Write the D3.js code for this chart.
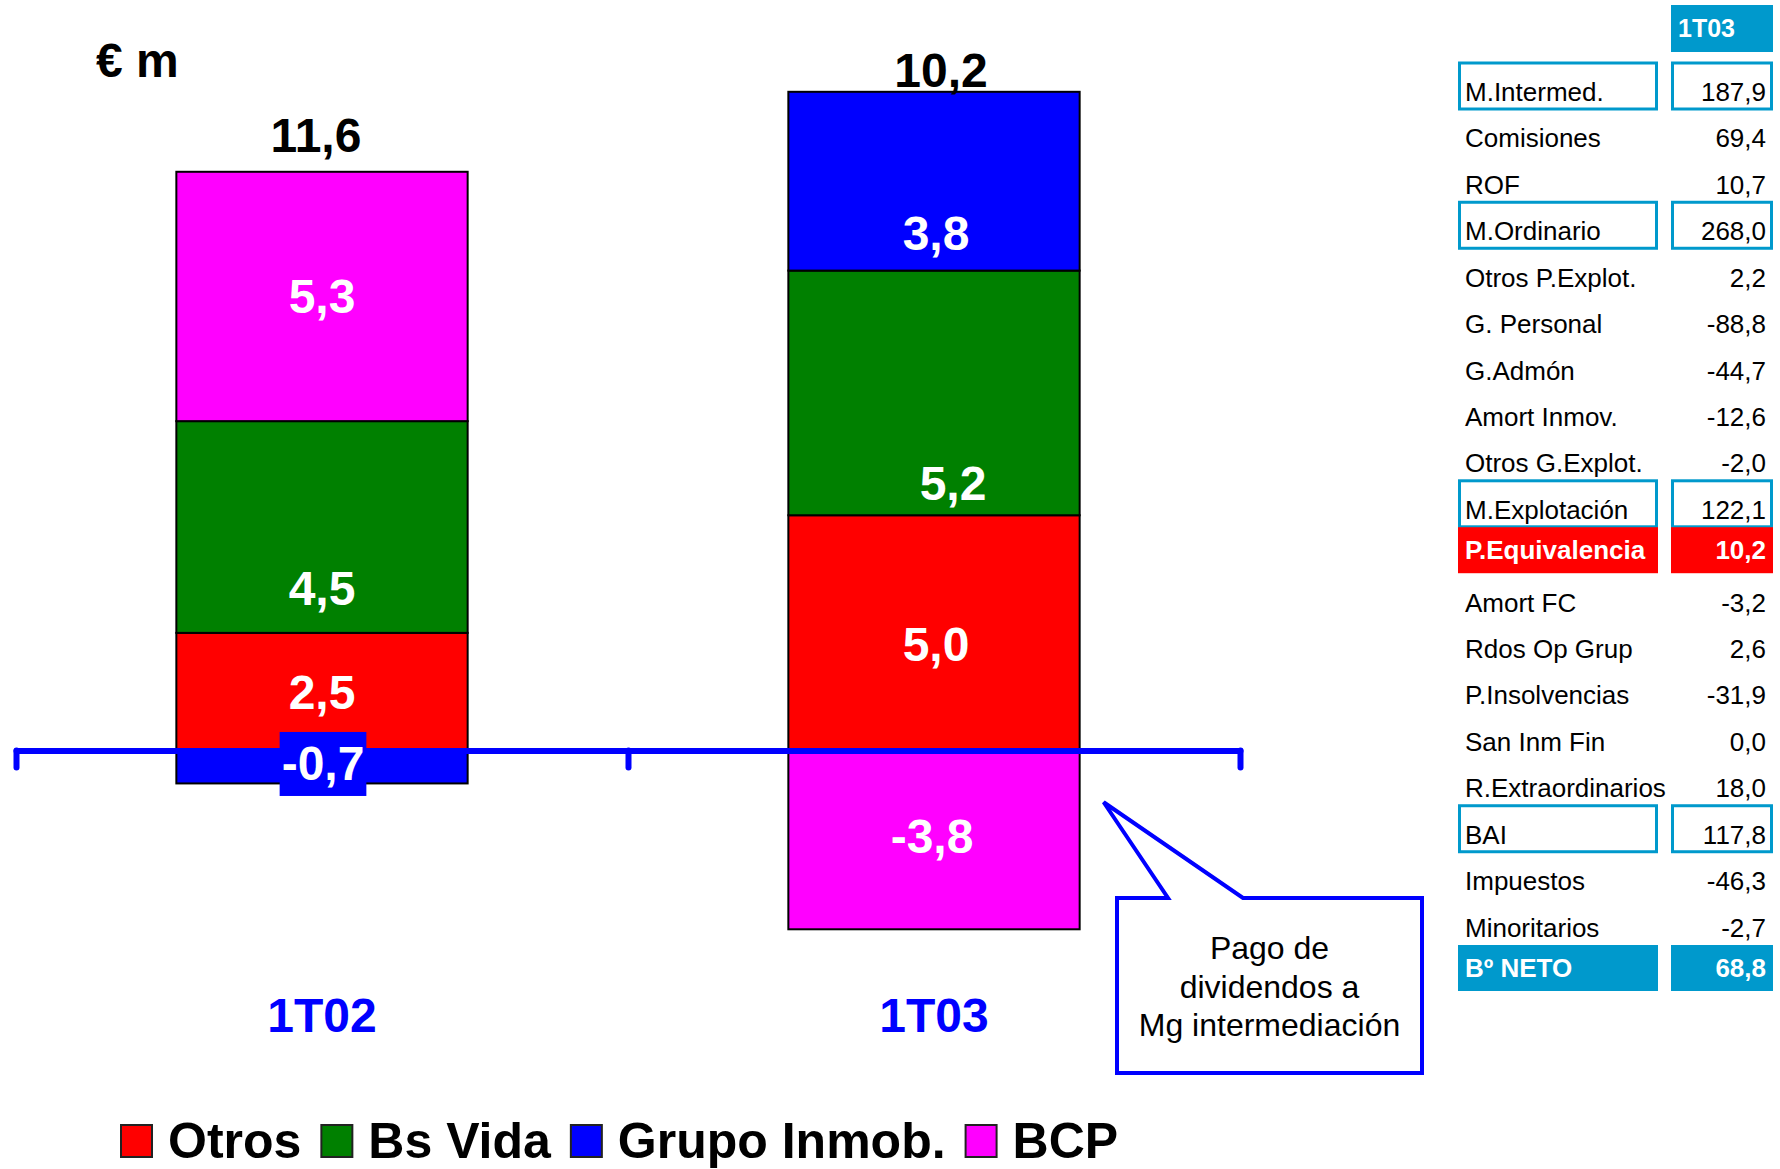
<!DOCTYPE html>
<html>
<head>
<meta charset="utf-8">
<script src="https://cdnjs.cloudflare.com/ajax/libs/d3/7.8.5/d3.min.js"></script>
<style>
  body { margin: 0; background: #fff; }
  svg { display: block; font-family: 'Liberation Sans', Arial, sans-serif; }
</style>
</head>
<body>
<div id="chart"></div>
<script>
// stacked bar data (€ m)
const categories = ['1T02', '1T03'];
const seriesNames = ['Otros', 'Bs Vida', 'Grupo Inmob.', 'BCP'];
const otros = [2.5, 5.0];
const bsVida = [4.5, 5.2];
const grupoInmob = [-0.7, 3.8];
const bcp = [5.3, -3.8];
const totals = [11.6, 10.2];

// side table
const tableHeader = '1T03';
const tableLabels = ['M.Intermed.', 'Comisiones', 'ROF', 'M.Ordinario', 'Otros P.Explot.',
  'G. Personal', 'G.Admón', 'Amort Inmov.', 'Otros G.Explot.', 'M.Explotación',
  'P.Equivalencia', 'Amort FC', 'Rdos Op Grup', 'P.Insolvencias', 'San Inm Fin',
  'R.Extraordinarios', 'BAI', 'Impuestos', 'Minoritarios', 'Bº NETO'];
const tableValues = [187.9, 69.4, 10.7, 268.0, 2.2, -88.8, -44.7, -12.6, -2.0, 122.1,
  10.2, -3.2, 2.6, -31.9, 0.0, 18.0, 117.8, -46.3, -2.7, 68.8];
const boxedRows = ['M.Intermed.', 'M.Ordinario', 'M.Explotación', 'BAI'];
const highlightRows = ['P.Equivalencia', 'Bº NETO'];

const calloutLines = ['Pago de', 'dividendos a', 'Mg intermediación'];

const width = 1780;
const height = 1169;

const locale = d3.formatLocale({decimal: ',', thousands: '.', grouping: [3], currency: ['', ''], minus: '-'});
const fmt = locale.format('.1f');

const color = d3.scaleOrdinal()
  .domain(seriesNames)
  .range(['#ff0000', '#008000', '#0000ff', '#ff00ff']);

const rows = categories.map((c, i) => ({
  category: c,
  'Otros': otros[i],
  'Bs Vida': bsVida[i],
  'Grupo Inmob.': grupoInmob[i],
  'BCP': bcp[i]
}));

const series = d3.stack()
  .keys(seriesNames)
  .offset(d3.stackOffsetDiverging)(rows);

const svg = d3.select('#chart')
  .append('svg')
  .attr('width', width)
  .attr('height', height);

const x = d3.scaleBand()
  .domain(categories)
  .range([16, 1240])
  .padding(0);

const barW = x.bandwidth() * 0.476;

const y = d3.scaleLinear()
  .domain([-4, 14])
  .range([938.7, 91.8]);

// bars
const layer = svg.append('g')
  .selectAll('g')
  .data(series)
  .join('g')
  .attr('fill', d => color(d.key));

layer.selectAll('rect')
  .data(d => d.map(v => Object.assign(v, {key: d.key})))
  .join('rect')
  .attr('x', d => x(d.data.category) + (x.bandwidth() - barW) / 2)
  .attr('y', d => y(d[1]))
  .attr('width', barW)
  .attr('height', d => Math.abs(y(d[0]) - y(d[1])))
  .attr('stroke', '#000')
  .attr('stroke-width', 2);

// axis at zero with ticks on category boundaries
const xEdges = d3.scaleLinear().domain([0, categories.length]).range(x.range());
const axis = svg.append('g')
  .attr('transform', `translate(0,${y(0)})`)
  .call(d3.axisBottom(xEdges)
    .tickValues(d3.range(categories.length + 1))
    .tickSize(17)
    .tickSizeOuter(0)
    .tickFormat(''));
axis.selectAll('path, line')
  .attr('stroke', '#0000ff')
  .attr('stroke-width', 6)
  .attr('stroke-linecap', 'round');

// segment labels
const labelNudge = {
  '1T02|Bs Vida': [0, 61],
  '1T02|Grupo Inmob.': [1, -4],
  '1T03|Grupo Inmob.': [2, 52],
  '1T03|Bs Vida': [19, 90],
  '1T03|Otros': [2, 11],
  '1T03|BCP': [-2, -4]
};

const segs = series.flatMap(s => s.filter(d => d[1] !== d[0]));
const segLabels = svg.append('g')
  .selectAll('g')
  .data(segs)
  .join('g');

segLabels.each(function (d) {
  const g = d3.select(this);
  const n = labelNudge[d.data.category + '|' + d.key] || [0, 0];
  const cx = x(d.data.category) + x.bandwidth() / 2 + n[0];
  const cy = (y(d[0]) + y(d[1])) / 2 + n[1];
  const t = g.append('text')
    .attr('x', cx)
    .attr('y', cy + 17)
    .attr('text-anchor', 'middle')
    .attr('font-size', 48)
    .attr('font-weight', 'bold')
    .attr('fill', '#fff')
    .text(fmt(d.data[d.key]));
  // small segments get a label background box
  if (Math.abs(y(d[0]) - y(d[1])) < 50) {
    const bb = t.node().getBBox();
    g.insert('rect', 'text')
      .attr('x', bb.x - 2)
      .attr('y', bb.y - 5)
      .attr('width', bb.width + 4)
      .attr('height', bb.height + 11)
      .attr('fill', color(d.key));
  }
});

// totals above bars
const totalNudge = [[-6, -20], [7, -5]];
svg.append('g')
  .selectAll('text')
  .data(categories)
  .join('text')
  .attr('x', (c, i) => x(c) + x.bandwidth() / 2 + totalNudge[i][0])
  .attr('y', (c, i) => y(d3.sum(seriesNames, k => Math.max(0, rows[i][k]))) + totalNudge[i][1])
  .attr('text-anchor', 'middle')
  .attr('font-size', 48)
  .attr('font-weight', 'bold')
  .attr('fill', '#000')
  .text((c, i) => fmt(totals[i]));

// category labels
svg.append('g')
  .selectAll('text')
  .data(categories)
  .join('text')
  .attr('x', c => x(c) + x.bandwidth() / 2)
  .attr('y', 1032)
  .attr('text-anchor', 'middle')
  .attr('font-size', 48)
  .attr('font-weight', 'bold')
  .attr('fill', '#0000ff')
  .text(c => c);

// unit
svg.append('text')
  .attr('x', 96)
  .attr('y', 77)
  .attr('font-size', 48)
  .attr('font-weight', 'bold')
  .text('€ m');

// legend
const legend = svg.append('g').attr('transform', 'translate(121,1125)');
let lx = 0;
seriesNames.forEach(name => {
  legend.append('rect')
    .attr('x', lx)
    .attr('y', 0)
    .attr('width', 31)
    .attr('height', 32)
    .attr('fill', color(name))
    .attr('stroke', '#222')
    .attr('stroke-width', 2);
  const t = legend.append('text')
    .attr('x', lx + 47)
    .attr('y', 33)
    .attr('font-size', 50)
    .attr('font-weight', 'bold')
    .text(name);
  lx += 47 + t.node().getComputedTextLength() + 20;
});

// callout
const tip = [x('1T03') + (x.bandwidth() + barW) / 2 + 24, y(-1.1)];
const box = {x0: 1117, x1: 1422, y0: 898, y1: 1073};
const callout = svg.append('g');
callout.append('path')
  .attr('d', d3.line()([
    tip, [1168, box.y0], [box.x0, box.y0], [box.x0, box.y1],
    [box.x1, box.y1], [box.x1, box.y0], [1243, box.y0]
  ]) + 'Z')
  .attr('fill', '#fff')
  .attr('stroke', '#0000ff')
  .attr('stroke-width', 4);
callout.selectAll('text')
  .data(calloutLines)
  .join('text')
  .attr('x', (box.x0 + box.x1) / 2)
  .attr('y', (d, i) => 959 + i * 38.5)
  .attr('text-anchor', 'middle')
  .attr('font-size', 32)
  .attr('fill', '#000')
  .text(d => d);

// table
const tBlue = '#0099cc';
const labelBox = [1458, 1658];
const valueBox = [1671, 1773];
const rowY = d3.scalePoint().domain(tableLabels).range([101, 983]);

const table = svg.append('g');
table.append('rect')
  .attr('x', valueBox[0]).attr('y', 5)
  .attr('width', valueBox[1] - valueBox[0]).attr('height', 47)
  .attr('fill', tBlue);
table.append('text')
  .attr('x', 1678).attr('y', 37)
  .attr('font-size', 25).attr('font-weight', 'bold')
  .attr('fill', '#fff')
  .text(tableHeader);

tableLabels.forEach((label, i) => {
  const b = rowY(label);
  const boxed = boxedRows.includes(label);
  const hl = highlightRows.includes(label);
  const fill = hl ? (label === 'P.Equivalencia' ? '#ff0000' : tBlue) : 'none';
  if (boxed || hl) {
    [labelBox, valueBox].forEach(bx => {
      table.append('rect')
        .attr('x', bx[0] + (boxed ? 1.5 : 0))
        .attr('y', b - 38)
        .attr('width', bx[1] - bx[0] - (boxed ? 3 : 0))
        .attr('height', 46)
        .attr('fill', fill)
        .attr('stroke', boxed ? tBlue : 'none')
        .attr('stroke-width', 3);
    });
  }
  const by = hl ? b - 6 : b;
  table.append('text')
    .attr('x', 1465).attr('y', by)
    .attr('font-size', 26)
    .attr('font-weight', hl ? 'bold' : 'normal')
    .attr('fill', hl ? '#fff' : '#000')
    .text(label);
  table.append('text')
    .attr('x', 1766).attr('y', by)
    .attr('text-anchor', 'end')
    .attr('font-size', 26)
    .attr('font-weight', hl ? 'bold' : 'normal')
    .attr('fill', hl ? '#fff' : '#000')
    .text(fmt(tableValues[i]));
});
</script>
</body>
</html>
